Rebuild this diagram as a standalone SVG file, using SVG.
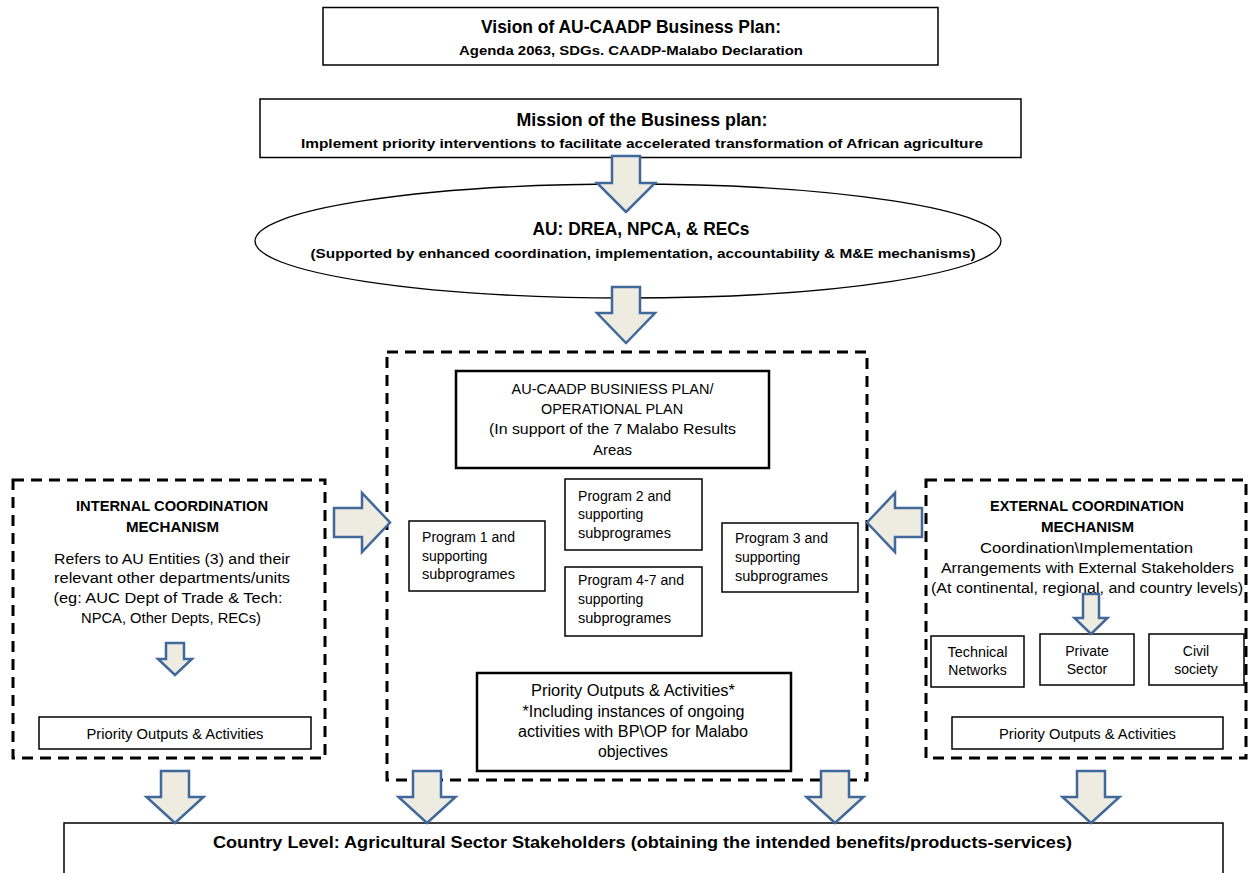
<svg xmlns="http://www.w3.org/2000/svg" width="1248" height="873" viewBox="0 0 1248 873">
<style>
text{font-family:"Liberation Sans",Arial,sans-serif;fill:#000}
.b{font-weight:bold}
.box{fill:#fff;stroke:#000;stroke-width:1.5}
.box2{fill:#fff;stroke:#000;stroke-width:2.5}
.dash{fill:none;stroke:#000;stroke-width:3;stroke-dasharray:11 7}
.arr{fill:#eeece1;stroke:#41689a;stroke-width:2.5;stroke-linejoin:miter}
.m{text-anchor:middle}
</style>
<rect width="1248" height="873" fill="#fff"/>

<g id="vision">
<rect class="box" x="323" y="7.5" width="615" height="57.5"/>
<text class="b m" x="631" y="33" font-size="17.5" textLength="300" lengthAdjust="spacingAndGlyphs">Vision of AU-CAADP Business Plan:</text>
<text class="b m" x="631" y="55" font-size="13.5" textLength="344" lengthAdjust="spacingAndGlyphs">Agenda 2063, SDGs. CAADP-Malabo Declaration</text>
</g>

<g id="mission">
<rect class="box" x="260" y="99" width="761" height="58.5" stroke-width="2"/>
<text class="b m" x="642" y="126" font-size="18" textLength="251" lengthAdjust="spacingAndGlyphs">Mission of the Business plan:</text>
<text class="b m" x="642" y="148" font-size="13.5" textLength="682" lengthAdjust="spacingAndGlyphs">Implement priority interventions to facilitate accelerated transformation of African agriculture</text>
</g>

<g id="au">
<ellipse cx="628" cy="241" rx="373" ry="57" fill="#fff" stroke="#000" stroke-width="1.3"/>
<text class="b m" x="641" y="235" font-size="17.5" textLength="217" lengthAdjust="spacingAndGlyphs">AU: DREA, NPCA, &amp; RECs</text>
<text class="b m" x="643" y="258" font-size="13.5" textLength="665" lengthAdjust="spacingAndGlyphs">(Supported by enhanced coordination, implementation, accountability &amp; M&amp;E mechanisms)</text>
</g>

<g id="business-plan-frame">
<rect class="dash" x="387" y="352" width="480" height="428"/>
</g>

<g id="business-plan">
<rect class="box2" x="456" y="371" width="313" height="97"/>
<text class="m" x="612.5" y="394" font-size="15" textLength="202" lengthAdjust="spacingAndGlyphs">AU-CAADP BUSINIESS PLAN/</text>
<text class="m" x="612" y="414" font-size="15" textLength="142" lengthAdjust="spacingAndGlyphs">OPERATIONAL PLAN</text>
<text class="m" x="612.5" y="434" font-size="15" textLength="247" lengthAdjust="spacingAndGlyphs">(In support of the 7 Malabo Results</text>
<text class="m" x="612.5" y="455" font-size="15" textLength="39" lengthAdjust="spacingAndGlyphs">Areas</text>
</g>

<g id="program1">
<rect class="box" x="409" y="521" width="136" height="70"/>
<text x="422" y="542" font-size="14" textLength="93" lengthAdjust="spacingAndGlyphs">Program 1 and</text>
<text x="422" y="561" font-size="14">supporting</text>
<text x="422" y="579" font-size="14" textLength="93" lengthAdjust="spacingAndGlyphs">subprogrames</text>
</g>

<g id="program2">
<rect class="box" x="565" y="479" width="137" height="71"/>
<text x="578" y="501" font-size="14" textLength="93" lengthAdjust="spacingAndGlyphs">Program 2 and</text>
<text x="578" y="519" font-size="14">supporting</text>
<text x="578" y="538" font-size="14" textLength="93" lengthAdjust="spacingAndGlyphs">subprogrames</text>
</g>

<g id="program3">
<rect class="box" x="722" y="523" width="136" height="69"/>
<text x="735" y="543" font-size="14" textLength="93" lengthAdjust="spacingAndGlyphs">Program 3 and</text>
<text x="735" y="562" font-size="14">supporting</text>
<text x="735" y="581" font-size="14" textLength="93" lengthAdjust="spacingAndGlyphs">subprogrames</text>
</g>

<g id="program4-7">
<rect class="box" x="565" y="567" width="137" height="69"/>
<text x="578" y="585" font-size="14" textLength="106" lengthAdjust="spacingAndGlyphs">Program 4-7 and</text>
<text x="578" y="604" font-size="14">supporting</text>
<text x="578" y="623" font-size="14" textLength="93" lengthAdjust="spacingAndGlyphs">subprogrames</text>
</g>

<g id="priority-center">
<rect class="box2" x="477" y="673" width="314" height="98"/>
<text class="m" x="633" y="696" font-size="16" textLength="204" lengthAdjust="spacingAndGlyphs">Priority Outputs &amp; Activities*</text>
<text class="m" x="633.5" y="717" font-size="16" textLength="222" lengthAdjust="spacingAndGlyphs">*Including instances of ongoing</text>
<text class="m" x="633" y="737" font-size="16" textLength="230" lengthAdjust="spacingAndGlyphs">activities with BP\OP for Malabo</text>
<text class="m" x="633" y="757" font-size="16" textLength="70" lengthAdjust="spacingAndGlyphs">objectives</text>
</g>

<g id="internal">
<rect class="dash" x="13" y="480" width="312" height="278"/>
<text class="b m" x="172" y="511" font-size="14.5" textLength="192" lengthAdjust="spacingAndGlyphs">INTERNAL COORDINATION</text>
<text class="b m" x="172.5" y="532" font-size="14.5" textLength="93" lengthAdjust="spacingAndGlyphs">MECHANISM</text>
<text class="m" x="172" y="564" font-size="15.5" textLength="236" lengthAdjust="spacingAndGlyphs">Refers to AU Entities (3) and their</text>
<text class="m" x="172" y="583" font-size="15.5" textLength="236" lengthAdjust="spacingAndGlyphs">relevant other departments/units</text>
<text class="m" x="168" y="603" font-size="15.5" textLength="229" lengthAdjust="spacingAndGlyphs">(eg: AUC Dept of Trade &amp; Tech:</text>
<text class="m" x="171" y="623" font-size="15.5" textLength="180" lengthAdjust="spacingAndGlyphs">NPCA, Other Depts, RECs)</text>
</g>

<g id="priority-internal">
<rect class="box" x="39" y="717" width="272" height="32"/>
<text class="m" x="175" y="739" font-size="14" textLength="177" lengthAdjust="spacingAndGlyphs">Priority Outputs &amp; Activities</text>
</g>

<g id="external">
<rect class="dash" x="926" y="480" width="320" height="278"/>
<text class="b m" x="1087" y="511" font-size="14.5" textLength="194" lengthAdjust="spacingAndGlyphs">EXTERNAL COORDINATION</text>
<text class="b m" x="1087.5" y="532" font-size="14.5" textLength="93" lengthAdjust="spacingAndGlyphs">MECHANISM</text>
<text class="m" x="1086.5" y="553" font-size="15.5" textLength="213" lengthAdjust="spacingAndGlyphs">Coordination\Implementation</text>
<text class="m" x="1087.5" y="573" font-size="15.5" textLength="293" lengthAdjust="spacingAndGlyphs">Arrangements with External Stakeholders</text>
<text class="m" x="1087" y="593" font-size="15.5" textLength="312" lengthAdjust="spacingAndGlyphs">(At continental, regional, and country levels)</text>
</g>

<g id="technical-networks">
<rect class="box" x="931" y="636" width="93" height="51"/>
<text class="m" x="977.5" y="657" font-size="14" textLength="60" lengthAdjust="spacingAndGlyphs">Technical</text>
<text class="m" x="977.5" y="675" font-size="14">Networks</text>
</g>

<g id="private-sector">
<rect class="box" x="1040" y="634" width="94" height="51"/>
<text class="m" x="1087" y="656" font-size="14">Private</text>
<text class="m" x="1087" y="674" font-size="14">Sector</text>
</g>

<g id="civil-society">
<rect class="box" x="1149" y="634" width="95" height="51"/>
<text class="m" x="1196" y="656" font-size="14">Civil</text>
<text class="m" x="1196" y="674" font-size="14">society</text>
</g>

<g id="priority-external">
<rect class="box" x="952" y="717" width="271" height="32"/>
<text class="m" x="1087.5" y="739" font-size="14" textLength="177" lengthAdjust="spacingAndGlyphs">Priority Outputs &amp; Activities</text>
</g>

<g id="country-level">
<rect class="box" x="64" y="823" width="1159" height="70" stroke="#222"/>
<text class="b m" x="642.5" y="848" font-size="16" textLength="859" lengthAdjust="spacingAndGlyphs">Country Level: Agricultural Sector Stakeholders (obtaining the intended benefits/products-services)</text>
</g>

<g id="connectors">
<polygon class="arr" points="612,156 640,156 640,183 655,183 626,212 597,183 612,183"/>
<polygon class="arr" points="612,287 640,287 640,313 655,313 626,343 597,313 612,313"/>
<polygon class="arr" points="334,508 362,508 362,493 390,522.5 362,552 362,537 334,537"/>
<polygon class="arr" points="922,508 895,508 895,493 867,522.5 895,552 895,537 922,537"/>
<polygon class="arr" points="166,643 184,643 184,659 192,659 175,675 158,659 166,659"/>
<polygon class="arr" points="1083,594 1099,594 1099,618 1107.5,618 1091,634 1074.5,618 1083,618"/>
<polygon class="arr" points="161,771 189,771 189,797 203.5,797 175,823 146.5,797 161,797"/>
<polygon class="arr" points="413,771 441,771 441,797 455.5,797 427,823 398.5,797 413,797"/>
<polygon class="arr" points="821,771 849,771 849,797 863.5,797 835,823 806.5,797 821,797"/>
<polygon class="arr" points="1077,771 1105,771 1105,797 1119.5,797 1091,823 1062.5,797 1077,797"/>
</g>
</svg>
